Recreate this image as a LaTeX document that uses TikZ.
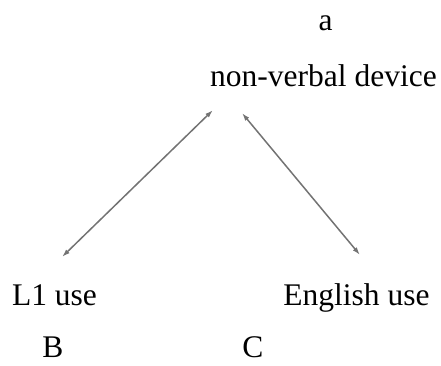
\documentclass[tikz,border=0pt]{standalone}
\usepackage{fontspec}
\setmainfont{Liberation Serif}
\usetikzlibrary{arrows.meta}
\begin{document}
\begin{tikzpicture}[x=1pt,y=-1pt,
  lbl/.style={anchor=base,inner sep=0pt,font=\fontsize{31.5}{36}\selectfont},
  link/.style={draw=black!55,line width=1.5pt,{Latex[length=8pt,width=5pt,fill=black!70]}-{Latex[length=8pt,width=5pt,fill=black!70]}}]
\useasboundingbox (0,0) rectangle (441,365);
\node[lbl] (a) at (325.5,30) {a};
\node[lbl] (nvd) at (323.5,86) {non-verbal device};
\node[lbl] (l1) at (54.5,305) {L1 use};
\node[lbl] (en) at (356.5,305) {English use};
\node[lbl] (b) at (53,357) {B};
\node[lbl] (c) at (253,357) {C};
\coordinate (lt) at (213,110);
\coordinate (lb) at (62,257);
\coordinate (rt) at (242,113);
\coordinate (rb) at (360,255);
\draw[link] (lt) -- (lb);
\draw[link] (rt) -- (rb);
\end{tikzpicture}
\end{document}
